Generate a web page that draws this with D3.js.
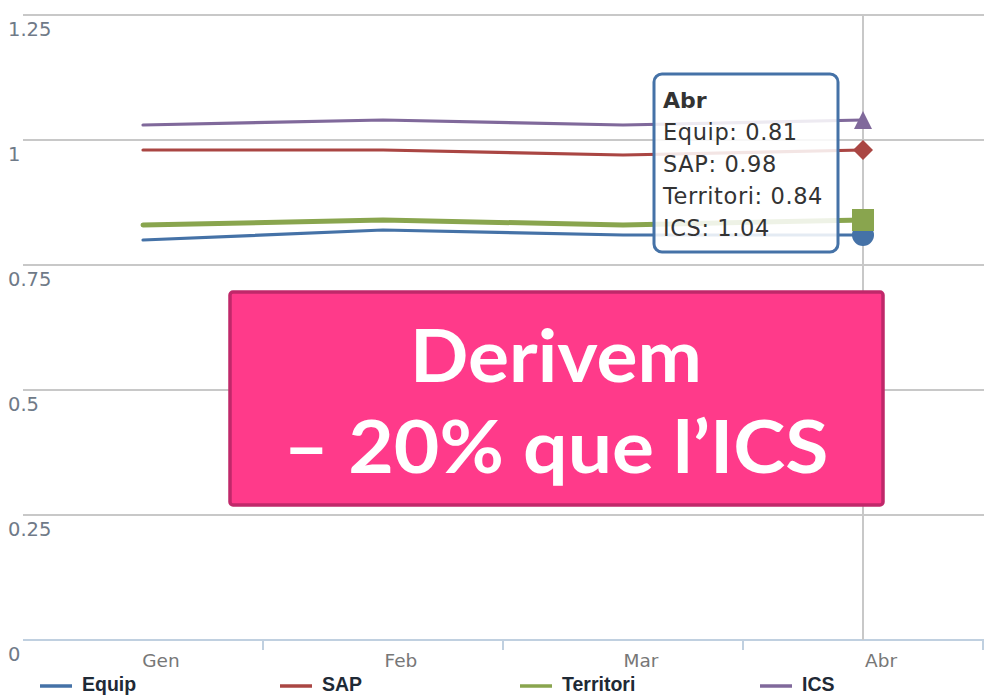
<!DOCTYPE html>
<html>
<head>
<meta charset="utf-8">
<script src="https://cdn.jsdelivr.net/npm/d3@7"></script>
<style>
  html, body { margin: 0; padding: 0; background: #fff; }
  svg { display: block; }
</style>
</head>
<body>
<svg id="chart" width="999" height="699"></svg>
<script>
const categories = ["Gen", "Feb", "Mar", "Abr"];
const seriesNames = ["Equip", "SAP", "Territori", "ICS"];
const equipValues = [0.80, 0.82, 0.81, 0.81];
const sapValues = [0.98, 0.98, 0.97, 0.98];
const territoriValues = [0.83, 0.84, 0.83, 0.84];
const icsValues = [1.03, 1.04, 1.03, 1.04];
const yTickValues = [0, 0.25, 0.5, 0.75, 1, 1.25];
const yTickLabels = ["0", "0.25", "0.5", "0.75", "1", "1.25"];
const calloutLines = ["Derivem", "\u2013 20% que l\u2019ICS"];
const hoverIndex = 3;

const colors = ["#4572A7", "#AA4643", "#89A54E", "#80699B"];
const symbols = ["circle", "diamond", "square", "triangle"];
const allValues = [equipValues, sapValues, territoriValues, icsValues];

const svg = d3.select("#chart");
const x = d3.scaleBand().domain(categories).range([23, 983]);
const y = d3.scaleLinear().domain([0, 1.25]).range([640, 15]);
const cx = c => x(c) + x.bandwidth() / 2;

// grid lines
svg.append("g").selectAll("line").data(yTickValues.filter(v => v > 0)).join("line")
  .attr("x1", 23).attr("x2", 984)
  .attr("y1", d => y(d)).attr("y2", d => y(d))
  .attr("stroke", "#C8C8C8").attr("stroke-width", 2);

// y labels
svg.append("g").selectAll("text").data(yTickValues).join("text")
  .attr("x", 8).attr("y", d => y(d) + 21)
  .attr("font-family", "DejaVu Sans").attr("font-size", 19.5)
  .attr("fill", "#6f7a88")
  .text((d, i) => yTickLabels[i]);

// x axis line + ticks
svg.append("line").attr("x1", 23).attr("x2", 984).attr("y1", y(0)).attr("y2", y(0))
  .attr("stroke", "#C0D0E0").attr("stroke-width", 2);
svg.append("g").selectAll("line").data(categories).join("line")
  .attr("x1", d => x(d) + x.bandwidth()).attr("x2", d => x(d) + x.bandwidth())
  .attr("y1", y(0)).attr("y2", y(0) + 10)
  .attr("stroke", "#C0D0E0").attr("stroke-width", 2);

// x labels
svg.append("g").selectAll("text").data(categories).join("text")
  .attr("x", d => cx(d) + 18).attr("y", 667)
  .attr("text-anchor", "middle")
  .attr("font-family", "DejaVu Sans").attr("font-size", 18.5)
  .attr("fill", "#777")
  .text(d => d);

// crosshair
svg.append("line")
  .attr("x1", cx(categories[hoverIndex])).attr("x2", cx(categories[hoverIndex]))
  .attr("y1", y(1.25)).attr("y2", y(0))
  .attr("stroke", "#C8C8C8").attr("stroke-width", 2);

// series lines
const line = d3.line().x((d, i) => cx(categories[i])).y(d => y(d));
[0, 1, 3, 2].forEach(s => {
  svg.append("path")
    .attr("d", line(allValues[s]))
    .attr("fill", "none")
    .attr("stroke", colors[s])
    .attr("stroke-width", s === 2 ? 5 : 3.2)
    .attr("stroke-linejoin", "round")
    .attr("stroke-linecap", "round");
});

// hover markers (Highcharts-style symbols)
function symbolPath(type, px, py) {
  const p = d3.path();
  if (type === "circle") { p.arc(px, py, 11, 0, 2 * Math.PI); }
  else if (type === "square") { p.rect(px - 11, py - 11, 22, 22); }
  else if (type === "diamond") {
    const r = 10;
    p.moveTo(px, py - r); p.lineTo(px + r, py); p.lineTo(px, py + r); p.lineTo(px - r, py); p.closePath();
  } else if (type === "triangle") {
    const r = 9;
    p.moveTo(px, py - r); p.lineTo(px + r, py + r); p.lineTo(px - r, py + r); p.closePath();
  }
  return p.toString();
}
[0, 1, 2, 3].forEach(s => {
  const px = cx(categories[hoverIndex]);
  const py = y(allValues[s][hoverIndex]);
  svg.append("path")
    .attr("d", symbolPath(symbols[s], px, py))
    .attr("fill", colors[s]);
});

// callout box
svg.append("rect")
  .attr("x", 230).attr("y", 292).attr("width", 653).attr("height", 213)
  .attr("rx", 3)
  .attr("fill", "#FF3A8A").attr("stroke", "#C0286A").attr("stroke-width", 3.5);
const calloutBase = [382, 473];
const calloutWidth = [292, 545];
svg.append("g").selectAll("text").data(calloutLines).join("text")
  .attr("x", 556).attr("y", (d, i) => calloutBase[i])
  .attr("text-anchor", "middle")
  .attr("font-family", "Lato").attr("font-weight", "bold").attr("font-size", 73)
  .attr("fill", "#fff")
  .attr("textLength", (d, i) => calloutWidth[i])
  .attr("lengthAdjust", "spacingAndGlyphs")
  .text(d => d);

// tooltip
const tip = svg.append("g");
tip.append("rect")
  .attr("x", 654).attr("y", 74).attr("width", 184).attr("height", 178)
  .attr("rx", 8)
  .attr("fill", "rgba(255,255,255,0.86)")
  .attr("stroke", "#4572A7").attr("stroke-width", 3);
tip.append("text")
  .attr("x", 663).attr("y", 108)
  .attr("font-family", "DejaVu Sans").attr("font-weight", "bold").attr("font-size", 22)
  .attr("fill", "#333")
  .text(categories[hoverIndex]);
tip.selectAll("text.row").data(seriesNames).join("text")
  .attr("class", "row")
  .attr("x", 663).attr("y", (d, i) => 140 + i * 32)
  .attr("font-family", "DejaVu Sans").attr("font-size", 22.5)
  .attr("letter-spacing", 0.6)
  .attr("fill", "#333")
  .text((d, i) => `${d}: ${allValues[i][hoverIndex].toFixed(2)}`);

// legend
const legend = svg.append("g");
seriesNames.forEach((n, i) => {
  const lx = 40 + i * 240;
  legend.append("line")
    .attr("x1", lx).attr("x2", lx + 32).attr("y1", 686).attr("y2", 686)
    .attr("stroke", colors[i]).attr("stroke-width", 3.5);
  legend.append("text")
    .attr("x", lx + 42).attr("y", 691)
    .attr("font-family", "Liberation Sans").attr("font-weight", "bold").attr("font-size", 19.5)
    .attr("fill", "#1f2a36")
    .text(n);
});
</script>
</body>
</html>
